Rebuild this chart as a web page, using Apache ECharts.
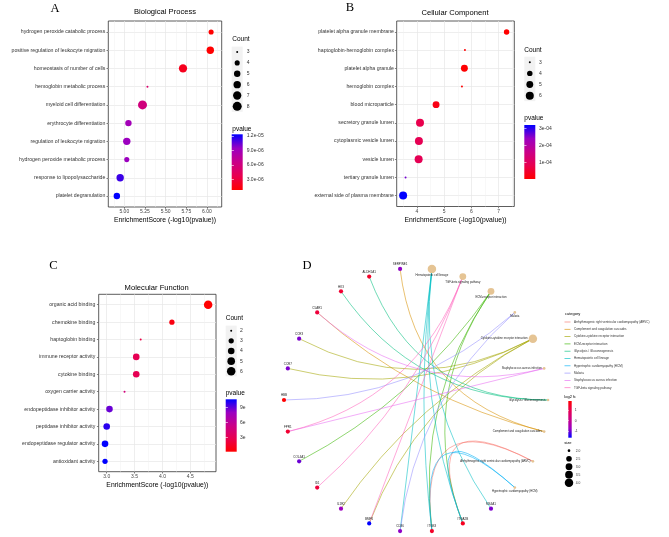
<!DOCTYPE html>
<html><head><meta charset="utf-8">
<script src="https://cdn.jsdelivr.net/npm/echarts@6/dist/echarts.min.js"></script>
<style>html,body{margin:0;padding:0;background:#fff}#c{width:669px;height:537px}</style>
</head><body><div id="c"></div>
<script>
const FF = "'Liberation Sans', Arial, sans-serif";
const SERIF = "'Liberation Serif', 'Times New Roman', serif";

// ---------- Panel A: Biological Process ----------
const catsA = ['hydrogen peroxide catabolic process','positive regulation of leukocyte migration','homeostasis of number of cells','hemoglobin metabolic process','myeloid cell differentiation','erythrocyte differentiation','regulation of leukocyte migration','hydrogen peroxide metabolic process','response to lipopolysaccharide','platelet degranulation'];
const scoreA = [6.05, 6.04, 5.71, 5.28, 5.22, 5.05, 5.03, 5.03, 4.95, 4.91];
const countA = [4, 6, 7, 3, 8, 5, 6, 4, 6, 5];
const pvalA  = [8.9e-7, 9.1e-7, 1.95e-6, 5.2e-6, 6.0e-6, 8.9e-6, 9.3e-6, 9.3e-6, 1.12e-5, 1.23e-5];
const xTicksA = [5.00, 5.25, 5.50, 5.75, 6.00];
const countKeysA = [3, 4, 5, 6, 7, 8];
const pTicksA = [3e-6, 6e-6, 9e-6, 1.2e-5];
const pLabelsA = ['3.0e-06', '6.0e-06', '9.0e-06', '1.2e-05'];

// ---------- Panel B: Cellular Component ----------
const catsB = ['platelet alpha granule membrane','haptoglobin-hemoglobin complex','platelet alpha granule','hemoglobin complex','blood microparticle','secretory granule lumen','cytoplasmic vesicle lumen','vesicle lumen','tertiary granule lumen','external side of plasma membrane'];
const scoreB = [7.29, 5.76, 5.74, 5.65, 4.70, 4.11, 4.07, 4.06, 3.58, 3.49];
const countB = [4, 3, 5, 3, 5, 6, 6, 6, 3, 6];
const pvalB  = [5.1e-8, 1.7e-6, 1.8e-6, 2.2e-6, 2.0e-5, 7.8e-5, 8.5e-5, 8.7e-5, 2.6e-4, 3.2e-4];
const xTicksB = [4, 5, 6, 7];
const countKeysB = [3, 4, 5, 6];
const pTicksB = [1e-4, 2e-4, 3e-4];
const pLabelsB = ['1e-04', '2e-04', '3e-04'];

// ---------- Panel C: Molecular Function ----------
const catsC = ['organic acid binding','chemokine binding','haptoglobin binding','immune receptor activity','cytokine binding','oxygen carrier activity','endopeptidase inhibitor activity','peptidase inhibitor activity','endopeptidase regulator activity','antioxidant activity'];
const scoreC = [4.82, 4.17, 3.61, 3.53, 3.53, 3.32, 3.05, 3.00, 2.97, 2.97];
const countC = [6, 3, 2, 4, 4, 2, 4, 4, 4, 3];
const pvalC  = [1.5e-5, 6.8e-5, 2.45e-4, 2.95e-4, 2.95e-4, 4.8e-4, 8.9e-4, 1.0e-3, 1.07e-3, 1.07e-3];
const xTicksC = [3.0, 3.5, 4.0, 4.5];
const countKeysC = [2, 3, 4, 5, 6];
const pTicksC = [3e-4, 6e-4, 9e-4];
const pLabelsC = ['3e', '6e', '9e'];

// ---------- Panel D: gene-concept network ----------
const pathways = ['Arrhythmogenic right ventricular cardiomyopathy (ARVC)','Complement and coagulation cascades','Cytokine-cytokine receptor interaction','ECM-receptor interaction','Glycolysis / Gluconeogenesis','Hematopoietic cell lineage','Hypertrophic cardiomyopathy (HCM)','Malaria','Staphylococcus aureus infection','TGF-beta signaling pathway'];
const pathwayColors = ['#F8766D','#D89000','#A3A500','#39B600','#00BF7D','#00BFC4','#00B0F6','#9590FF','#E76BF3','#FF62BC'];
const pathwayGenes = [
  ['ITGB3','ITGA2B'],
  ['SERPINE1','C5AR1'],
  ['CCR3','CCR7','BMP6','IL1R2'],
  ['COL4A1','ITGB3','ITGA2B'],
  ['ALDH1A1','HK3'],
  ['CD36','ITGB3','ITGA2B','MS4A1'],
  ['ITGB3','ITGA2B'],
  ['HBB','CD36'],
  ['C5AR1','FPR1'],
  ['ID1','BMP6','FPR1']
];
const geneNames = ['SERPINE1','ALDH1A1','HK3','C5AR1','CCR3','CCR7','HBB','FPR1','COL4A1','ID1','IL1R2','BMP6','CD36','ITGB3','ITGA2B','MS4A1'];
const geneFC    = [-0.8, 1.4, 1.3, 1.2, -0.9, -0.9, 1.84, 1.3, -1.0, 1.2, -0.7, -1.6, -0.8, 1.4, 1.5, -0.9];
const ringOrder = ['Glycolysis / Gluconeogenesis','Staphylococcus aureus infection','Cytokine-cytokine receptor interaction','Malaria','ECM-receptor interaction','TGF-beta signaling pathway','Hematopoietic cell lineage',
  'SERPINE1','ALDH1A1','HK3','C5AR1','CCR3','CCR7','HBB','FPR1','COL4A1','ID1','IL1R2','BMP6','CD36','ITGB3','ITGA2B','MS4A1',
  'Hypertrophic cardiomyopathy (HCM)','Arrhythmogenic right ventricular cardiomyopathy (ARVC)','Complement and coagulation cascades'];
const fcTicks = [-1, 0, 1];
const sizeKeysD = [2.0, 2.5, 3.0, 3.5, 4.0];

// ---------- helpers ----------
const RB = ['#FF0000','#E8004F','#CA0088','#9A00C2','#0000FF'];
const RBrgb = RB.map(h => [1,3,5].map(i => parseInt(h.substr(i,2),16)));
function grad(t){
  t = Math.max(0, Math.min(1, t));
  const n = RBrgb.length - 1; let k = Math.floor(t*n); if (k >= n) k = n-1;
  const f = t*n - k, a = RBrgb[k], b = RBrgb[k+1];
  return 'rgb(' + a.map((v,j) => Math.round(v + (b[j]-v)*f)).join(',') + ')';
}
function stops(fn){ const s=[]; for(let i=0;i<=20;i++){ s.push({offset:i/20, color:fn(i/20)}); } return s; }

const option = {animation:false, backgroundColor:'#fff', textStyle:{fontFamily:FF},
  grid:[], xAxis:[], yAxis:[], series:[], graphic:[]};
const addGrid = g => (option.grid.push(g), option.grid.length-1);
const addX = a => (option.xAxis.push(a), option.xAxis.length-1);
const addY = a => (option.yAxis.push(a), option.yAxis.length-1);
function T(x, y, text, size, o){
  o = o || {};
  const al = o.align || 'left';
  option.graphic.push({type:'text', x:x, y:y, silent:true, z:50,
    style:{text:text, fill:o.fill||'#000', font: size + 'px ' + (o.family||FF),
      textAlign:al, textVerticalAlign:'middle', align:al, verticalAlign:'middle'}});
}

function colorbar(C){
  const gi = addGrid({left:C.l, top:C.t, width:C.w, height:C.h, show:false});
  const xi = addX({type:'value', gridIndex:gi, min:0, max:1, show:false});
  const yi = addY({type:'value', gridIndex:gi, min:C.min, max:C.max, position:'right', z:10,
    axisLine:{show:false}, splitLine:{show:false},
    axisTick:{show:true, inside:true, length:C.w/5, customValues:C.ticks, lineStyle:{color:'#fff', width:0.6}},
    axisLabel:{customValues:C.ticks, fontSize:C.fs, color:'#333', margin:C.m, fontFamily:FF,
      formatter: v => { const i = C.ticks.findIndex(t => Math.abs(t-v) <= Math.abs(t)*1e-6); return i>=0 ? C.labels[i] : ''; }}});
  addY({type:'value', gridIndex:gi, min:C.min, max:C.max, position:'left', z:10,
    axisLine:{show:false}, splitLine:{show:false}, axisLabel:{show:false},
    axisTick:{show:true, inside:true, length:C.w/5, customValues:C.ticks, lineStyle:{color:'#fff', width:0.6}}});
  option.series.push({type:'custom', xAxisIndex:xi, yAxisIndex:yi, data:[[0,0]], z:2, silent:true,
    renderItem: (params, api) => {
      const a = api.coord([0, C.max]), b = api.coord([1, C.min]);
      return {type:'rect', shape:{x:a[0], y:a[1], width:b[0]-a[0], height:b[1]-a[1]},
        style:{fill: new echarts.graphic.LinearGradient(0,0,0,1, stops(C.colorAt))}};
    }});
}

function sizeKeys(K){
  const gi = addGrid({left:K.l, top:K.t, width:K.w, height:K.h, show:true, backgroundColor:K.bg, borderWidth:0});
  const xi = addX({type:'category', gridIndex:gi, data:['k'], show:false});
  const yi = addY({type:'category', gridIndex:gi, data:K.keys.map(K.fmt || String), inverse:true, position:'right',
    axisLine:{show:false}, axisTick:{show:false}, splitLine:{show:false},
    axisLabel:{fontSize:K.fs, color:'#333', margin:K.m, fontFamily:FF}});
  option.series.push({type:'scatter', xAxisIndex:xi, yAxisIndex:yi, silent:true,
    data: K.keys.map((k,i) => [0, i, k]), symbolSize: d => K.sz(d[2]), itemStyle:{color:'#000', opacity:1}});
}

function dotPanel(P){
  const cmin = Math.min(...P.count), cmax = Math.max(...P.count);
  const sz = c => P.dmin + (P.dmax-P.dmin)*Math.sqrt((c-cmin)/(cmax-cmin));
  const pmin = Math.min(...P.pval), pmax = Math.max(...P.pval);
  const pc = p => grad((p-pmin)/(pmax-pmin));
  const rows = P.cats.map((c,i) => i+1);
  const step = P.xTicks[1]-P.xTicks[0];
  const minor = [];
  for (let v = P.xTicks[0]-step/2; v <= P.xmax; v += step) if (v >= P.xmin) minor.push(+v.toFixed(6));
  const gi = addGrid({left:P.g[0], top:P.g[1], width:P.g[2], height:P.g[3], show:true, borderColor:'#333', borderWidth:0.8, backgroundColor:'#fff'});
  const xi = addX({type:'value', gridIndex:gi, min:P.xmin, max:P.xmax, position:'bottom',
    axisLine:{show:false},
    axisTick:{show:true, length:1.8, customValues:P.xTicks, lineStyle:{color:'#333', width:0.6}},
    axisLabel:{customValues:P.xTicks, formatter:P.fmt, fontSize:5, color:'#444', margin:2.2, fontFamily:FF},
    splitLine:{show:true, lineStyle:{color:'#E6E6E6', width:0.7}},
    name:'EnrichmentScore (-log10(pvalue))', nameLocation:'middle', nameGap:P.nameGap,
    nameTextStyle:{fontSize:6.8, color:'#000', fontFamily:FF}});
  addX({type:'value', gridIndex:gi, min:P.xmin, max:P.xmax,
    axisLine:{show:false}, axisTick:{show:false, customValues:minor}, axisLabel:{show:false},
    splitLine:{show:true, lineStyle:{color:'#F0F0F0', width:0.5}}});
  const yi = addY({type:'value', gridIndex:gi, min:0.4, max:rows.length+0.6, inverse:true,
    axisLine:{show:false},
    axisTick:{show:true, length:1.8, customValues:rows, lineStyle:{color:'#333', width:0.6}},
    axisLabel:{customValues:rows, formatter: v => P.cats[Math.round(v)-1], fontSize:5.2, color:'#333', margin:P.ym, fontFamily:FF},
    splitLine:{show:true, lineStyle:{color:'#E6E6E6', width:0.7}}});
  option.series.push({type:'scatter', xAxisIndex:xi, yAxisIndex:yi, z:3, silent:true,
    data: P.score.map((s,i) => [s, i+1, P.count[i], P.pval[i]]),
    symbolSize: d => sz(d[2]), itemStyle:{opacity:1, color: p => pc(p.data[3])}});
  // legends
  sizeKeys({l:P.key[0], t:P.key[1], w:P.key[2], h:P.key[3], m:P.key[4], keys:P.keys, sz:sz, fs:5, bg:'#F2F2F2'});
  colorbar({l:P.cb[0], t:P.cb[1], w:P.cb[2], h:P.cb[3], m:P.cb[4], min:pmin, max:pmax, ticks:P.pTicks, labels:P.pLabels, fs:5,
    colorAt: o => grad(1-o)});
  T(P.titleXY[0], P.titleXY[1], P.title, 7.6, {align:'center'});
  T(P.letterXY[0], P.letterXY[1], P.letter, 12.5, {align:'center', family:SERIF});
  T(P.countXY[0], P.countXY[1], 'Count', 6.5);
  T(P.pvXY[0], P.pvXY[1], 'pvalue', 6.5);
}

dotPanel({cats:catsA, score:scoreA, count:countA, pval:pvalA, xTicks:xTicksA, fmt: v => v.toFixed(2),
  g:[108.3, 21, 113.4, 186], xmin:4.8065, xmax:6.178, dmin:2, dmax:9, ym:3, nameGap:9.5,
  keys:countKeysA, key:[231.7, 46.6, 11, 65.2, 4], cb:[231.7, 134.3, 11, 55.7, 4], pTicks:pTicksA, pLabels:pLabelsA,
  title:'Biological Process', titleXY:[165, 12.3], letter:'A', letterXY:[55, 8.5], countXY:[232.3, 39.3], pvXY:[232.3, 129]});

dotPanel({cats:catsB, score:scoreB, count:countB, pval:pvalB, xTicks:xTicksB, fmt: v => String(Math.round(v)),
  g:[396.7, 21, 117.6, 185.5], xmin:3.2545, xmax:7.573, dmin:2, dmax:8, ym:2.7, nameGap:10,
  keys:countKeysB, key:[524.3, 56.7, 11, 44.5, 3.7], cb:[524.3, 125, 11, 54, 3.7], pTicks:pTicksB, pLabels:pLabelsB,
  title:'Cellular Component', titleXY:[455, 13], letter:'B', letterXY:[350, 7.5], countXY:[524.3, 50.7], pvXY:[524.3, 118.3]});

dotPanel({cats:catsC, score:scoreC, count:countC, pval:pvalC, xTicks:xTicksC, fmt: v => v.toFixed(1),
  g:[98.7, 294.3, 117.3, 177.4], xmin:2.8565, xmax:4.961, dmin:2, dmax:8.5, ym:3.4, nameGap:9.5,
  keys:countKeysC, key:[225.7, 325.6, 11, 50.75, 3.3], cb:[225.7, 399.3, 11, 52.4, 3.3], pTicks:pTicksC, pLabels:pLabelsC,
  title:'Molecular Function', titleXY:[156.7, 287.7], letter:'C', letterXY:[53.3, 266], countXY:[225.7, 318.7], pvXY:[225.7, 393.3]});

// ---------- Panel D ----------
(function(){
  const fcMin = Math.min(...geneFC), fcMax = Math.max(...geneFC);
  const fcColor = v => grad((fcMax - v)/(fcMax - fcMin));
  const counts = pathwayGenes.map(g => g.length);
  const nmin = Math.min(...counts), nmax = Math.max(...counts);
  const szD = n => 2.7 + (8.5-2.7)*Math.sqrt((n-nmin)/(nmax-nmin));
  const N = ringOrder.length;
  const ang = name => 2*Math.PI*ringOrder.indexOf(name)/N;
  const gi = addGrid({left:284, top:268, width:264, height:264, show:false});
  const xi = addX({type:'value', gridIndex:gi, min:-1, max:1, show:false});
  const yi = addY({type:'value', gridIndex:gi, min:-1, max:1, show:false});
  const nodes = ringOrder.map((name, i) => {
    const th = 2*Math.PI*i/N;
    const k = pathways.indexOf(name);
    if (k >= 0) {
      return {name, value:[Math.cos(th), Math.sin(th)], symbol:'circle', symbolSize:szD(counts[k]),
        itemStyle:{color:'#E5C494'},
        label:{show:true, position: Math.cos(th) > 0.8 ? 'left' : 'bottom', distance:1, fontSize:2.8, color:'#222'}};
    }
    const gidx = geneNames.indexOf(name);
    return {name, value:[Math.cos(th), Math.sin(th)], symbol:'circle', symbolSize:4.2,
      itemStyle:{color:fcColor(geneFC[gidx])},
      label:{show:true, position:'top', distance:0.8, fontSize:3, color:'#222'}};
  });
  const links = [];
  pathwayGenes.forEach((gs, k) => gs.forEach(g => {
    const d = ang(g) - ang(pathways[k]);
    links.push({source:pathways[k], target:g,
      lineStyle:{color:pathwayColors[k], curveness: 1/(2*Math.tan(d/2))}});
  }));
  option.series.push({type:'graph', layout:'none', coordinateSystem:'cartesian2d', xAxisIndex:xi, yAxisIndex:yi,
    data:nodes, links:links, silent:true, z:3,
    lineStyle:{width:0.7, opacity:0.8}, label:{show:true, fontFamily:FF}});
  // category legend via empty series
  pathways.forEach((p, k) => {
    const c = pathwayColors[k];
    const rgba = 'rgba(' + [1,3,5].map(i => parseInt(c.substr(i,2),16)).join(',') + ',0.8)';
    option.series.push({type:'line', name:p, xAxisIndex:xi, yAxisIndex:yi, data:[], itemStyle:{color:rgba}, lineStyle:{color:rgba}});
  });
  option.legend = {orient:'vertical', left:564.5, top:320, itemWidth:6, itemHeight:0.8, icon:'rect', itemGap:3.3,
    padding:0, selectedMode:false, data:pathways,
    textStyle:{fontSize:3, lineHeight:4, color:'#333', fontFamily:FF, padding:[0,0,0,-1.5]}};
  colorbar({l:568.3, t:401, w:3.4, h:36.7, m:3, min:fcMin, max:fcMax, ticks:fcTicks, labels:fcTicks.map(String), fs:3.3,
    colorAt: o => grad(o)});
  sizeKeys({l:566, t:446.7, w:6, h:40, m:3.7, keys:sizeKeysD, fmt: v => v.toFixed(1), sz:szD, fs:3.3, bg:'#fff'});
  T(307, 266, 'D', 12.5, {align:'center', family:SERIF});
  T(565, 314.3, 'category', 4);
  T(564.3, 396.7, 'log2 fc', 4);
  T(564.3, 442.7, 'size', 4);
})();

const chart = echarts.init(document.getElementById('c'), null, {renderer:'canvas'});
chart.setOption(option);
</script>
</body></html>
